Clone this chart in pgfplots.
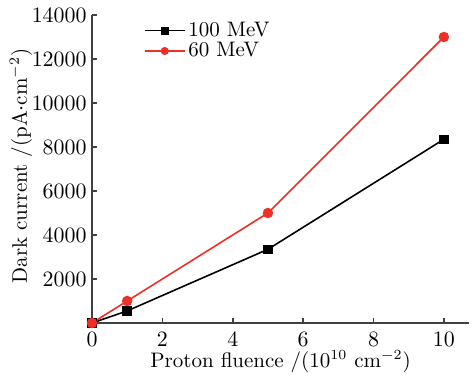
\documentclass[border=0pt]{standalone}
\usepackage{pgfplots}
\pgfplotsset{compat=1.18}
\definecolor{myred}{RGB}{238,48,38}
\begin{document}
\begin{tikzpicture}[font=\fontsize{10.5}{12.5}\selectfont]
\begin{axis}[
  at={(0,0)}, anchor=south west,
  scale only axis,
  width=188.6pt, height=154pt,
  xmin=0, xmax=10.72, ymin=0, ymax=14000,
  axis x line*=bottom, axis y line*=left,
  xtick={0,2,4,6,8,10},
  ytick={2000,4000,...,14000},
  tick align=inside,
  major tick length=2.5pt,
  scaled y ticks=false,
  tick label style={font=\fontsize{10.5}{12.5}\selectfont},
  label style={font=\fontsize{10.5}{12.5}\selectfont},
  y tick label style={/pgf/number format/1000 sep={}, xshift=0.8pt},
  x tick label style={yshift=-1.2pt},
  xlabel={Proton fluence /(10$^{10}$ cm$^{-2}$)},
  ylabel={Dark current /(pA$\cdot$cm$^{-2}$)},
  xlabel style={at={(axis description cs:0.5,0)}, anchor=center, yshift=-19.5pt},
  ylabel style={at={(axis description cs:0,0.51)}, anchor=center, yshift=35.5pt},
  axis line style={line width=0.8pt, black!75},
  tick style={line width=0.8pt, black!75},
  legend style={draw=none, fill=none, at={(26pt,154pt-2pt)}, anchor=north west,
    inner sep=0pt, outer sep=0pt, row sep=-1.5pt, nodes={inner sep=1.5pt},
    font=\fontsize{10.5}{12.5}\selectfont},
  legend cell align=left,
  legend image code/.code={\draw[mark repeat=2,mark phase=2,mark size=1.6pt] plot coordinates {(0cm,0cm) (0.35cm,0cm) (0.7cm,0cm)};},
  clip=false,
]
\addplot[black, line width=0.8pt, mark=square*, mark size=2pt] coordinates {(0,0) (1,550) (5,3350) (10,8350)};
\addlegendentry{100 MeV}
\addplot[myred, line width=0.8pt, mark=*, mark size=2.2pt] coordinates {(0,0) (1,1000) (5,5000) (10,13000)};
\addlegendentry{60 MeV}
\end{axis}
\pgfresetboundingbox
\useasboundingbox (-46pt,-27pt) rectangle (190pt,161.5pt);
\end{tikzpicture}
\end{document}
